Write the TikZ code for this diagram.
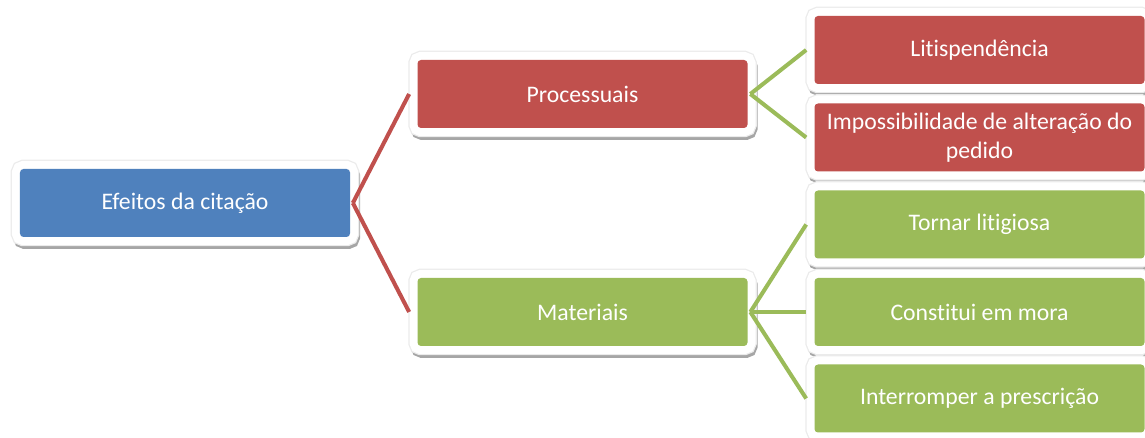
\documentclass[tikz,border=0pt]{standalone}
\usepackage{fontspec}
\setmainfont{Carlito}[Ligatures={NoCommon,NoContextual}]
\definecolor{boxblue}{HTML}{4F81BD}
\definecolor{boxred}{HTML}{C0504D}
\definecolor{boxgreen}{HTML}{9BBB59}
\tikzset{
  box/.style={rectangle, rounded corners=2pt, minimum width=6.6cm, minimum height=1.36cm,
    text=white, align=center, font=\fontsize{13.5}{16.5}\selectfont,
    preaction={draw=black!35, line width=0.34cm, rounded corners=5pt,
      transform canvas={xshift=0.03cm, yshift=-0.07cm}},
    preaction={draw=black!8, line width=0.37cm, rounded corners=5pt},
    preaction={draw=white, line width=0.32cm, rounded corners=5pt}},
  link/.style={line width=2.3pt}
}
\begin{document}
\begin{tikzpicture}
	\useasboundingbox (0,0) rectangle (22.9,8.76);
	\node [box, fill=boxblue] (efeitos) at (3.7,4.7) {Efeitos da citação};
	\node [box, fill=boxred] (proc) at (11.65,6.88) {Processuais};
	\node [box, fill=boxgreen] (mat) at (11.65,2.52) {Materiais};
	\node [box, fill=boxred] (lit) at (19.59,7.76) {Litispendência};
	\node [box, fill=boxred] (imp) at (19.59,6.01) {Impossibilidade de alteração do\\pedido};
	\node [box, fill=boxgreen] (torn) at (19.59,4.27) {Tornar litigiosa};
	\node [box, fill=boxgreen] (cons) at (19.59,2.52) {Constitui em mora};
	\node [box, fill=boxgreen] (inter) at (19.59,0.79) {Interromper a prescrição};
	\foreach \from/\to in {efeitos/proc, efeitos/mat}
	\draw [link, boxred] ([xshift=0.05cm]\from.east) -- ([xshift=-0.16cm]\to.west);
	\foreach \from/\to in {
		proc/lit, proc/imp, mat/torn, mat/cons, mat/inter}
	\draw [link, boxgreen] ([xshift=0.05cm]\from.east) -- ([xshift=-0.16cm]\to.west);
\end{tikzpicture}
\end{document}
